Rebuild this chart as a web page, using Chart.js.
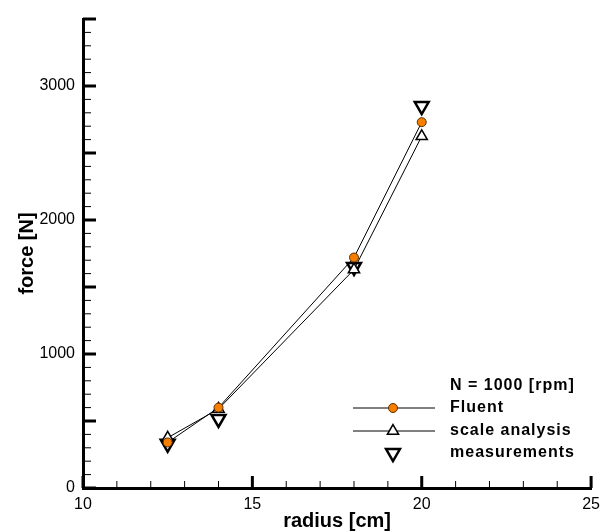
<!DOCTYPE html>
<html>
<head>
<meta charset="utf-8">
<script src="https://cdn.jsdelivr.net/npm/chart.js@4"></script>
<style>
  html, body { margin: 0; padding: 0; background: #fff; }
  canvas { display: block; }
</style>
</head>
<body>
<canvas id="forceChart" width="607" height="532"></canvas>
<script>
// Data
const radius = [12.5, 14, 18, 20];
const fluent = [340, 600, 1720, 2730];
const scaleAnalysis = [375, 590, 1630, 2625];
const measurements = [330, 515, 1650, 2850];

const seriesNames = ['Fluent', 'scale analysis', 'measurements'];
const legendTitle = 'N = 1000 [rpm]';

const xTickLabels = [10, 15, 20, 25];
const yTickLabels = [0, 1000, 2000, 3000];

const toPoints = ys => radius.map((r, i) => ({ x: r, y: ys[i] }));

// Inward tick marks, like the original plotting package
const inwardTicks = {
    id: 'inwardTicks',
    beforeDatasetsDraw(chart) {
        const { ctx, scales: { x, y } } = chart;
        const x0 = x.getPixelForValue(x.min);
        const y0 = y.getPixelForValue(y.min);
        ctx.save();
        ctx.strokeStyle = '#000';
        for (let v = x.min; v <= x.max; v += 1) {
            const major = v % 5 === 0;
            const px = x.getPixelForValue(v);
            ctx.lineWidth = major ? 3 : 1;
            ctx.beginPath();
            ctx.moveTo(px, y0);
            ctx.lineTo(px, y0 - (major ? 12 : 7));
            ctx.stroke();
        }
        for (let v = y.min; v <= y.max; v += 100) {
            const major = v % 500 === 0;
            const py = y.getPixelForValue(v);
            ctx.lineWidth = major ? 3 : 1;
            ctx.beginPath();
            ctx.moveTo(x0, py);
            ctx.lineTo(x0 + (major ? 13 : 8), py);
            ctx.stroke();
        }
        ctx.restore();
    }
};

// Legend box in the lower right
const plotLegend = {
    id: 'plotLegend',
    afterDraw(chart) {
        const ctx = chart.ctx;
        const lineX1 = 353, lineX2 = 435, markX = 393, textX = 450;
        const rows = [408, 431, 453];
        ctx.save();
        ctx.font = 'bold 16px "Liberation Sans", Arial, sans-serif';
        ctx.letterSpacing = '1px';
        ctx.fillStyle = '#000';
        ctx.textBaseline = 'middle';
        ctx.textAlign = 'left';
        ctx.fillText(legendTitle, textX, 386);
        chart.data.datasets.forEach((ds, i) => {
            const yy = rows[i];
            if (ds.showLine) {
                ctx.strokeStyle = ds.borderColor;
                ctx.lineWidth = ds.borderWidth;
                ctx.beginPath();
                ctx.moveTo(lineX1, yy);
                ctx.lineTo(lineX2, yy);
                ctx.stroke();
            }
            ctx.fillStyle = ds.pointBackgroundColor;
            ctx.strokeStyle = ds.pointBorderColor;
            ctx.lineWidth = ds.pointBorderWidth;
            Chart.helpers.drawPoint(ctx, {
                pointStyle: ds.pointStyle,
                rotation: ds.pointRotation || 0,
                radius: ds.pointRadius,
                borderWidth: ds.pointBorderWidth
            }, markX, yy);
            ctx.fillStyle = '#000';
            ctx.fillText(seriesNames[i], textX, yy);
        });
        ctx.restore();
    }
};

const axisFont = { family: '"Liberation Sans", Arial, sans-serif', size: 16 };
const titleFont = { family: '"Liberation Sans", Arial, sans-serif', size: 20, weight: 'bold', lineHeight: 1 };

new Chart(document.getElementById('forceChart'), {
    type: 'scatter',
    data: {
        datasets: [
            {
                label: seriesNames[0],
                data: toPoints(fluent),
                showLine: true,
                borderColor: '#000',
                borderWidth: 1,
                pointStyle: 'circle',
                pointRadius: 4.5,
                pointBackgroundColor: '#f77f00',
                pointBorderColor: '#5a2e00',
                pointBorderWidth: 1
            },
            {
                label: seriesNames[1],
                data: toPoints(scaleAnalysis),
                showLine: true,
                borderColor: '#000',
                borderWidth: 1,
                pointStyle: 'triangle',
                pointRadius: 6.5,
                pointBackgroundColor: '#fff',
                pointBorderColor: '#000',
                pointBorderWidth: 1.5
            },
            {
                label: seriesNames[2],
                data: toPoints(measurements),
                showLine: false,
                borderColor: '#000',
                borderWidth: 0,
                pointStyle: 'triangle',
                pointRotation: 180,
                pointRadius: 8,
                pointBackgroundColor: '#fff',
                pointBorderColor: '#000',
                pointBorderWidth: 2.5
            }
        ]
    },
    options: {
        responsive: false,
        animation: false,
        devicePixelRatio: 1,
        layout: { padding: { left: 0, top: 19, right: 9, bottom: 0 } },
        plugins: {
            legend: { display: false },
            tooltip: { enabled: false }
        },
        scales: {
            x: {
                type: 'linear',
                min: 10,
                max: 25,
                afterFit: s => { s.height = 44; },
                afterBuildTicks: s => { s.ticks = xTickLabels.map(v => ({ value: v })); },
                grid: { display: true, drawOnChartArea: false, drawTicks: false },
                border: { display: true, color: '#000', width: 3 },
                ticks: {
                    padding: 7,
                    color: '#000',
                    font: axisFont,
                    maxRotation: 0,
                    autoSkip: false,
                    callback: v => String(v)
                },
                title: {
                    display: true,
                    text: 'radius [cm]',
                    color: '#000',
                    font: titleFont,
                    padding: { top: 0, bottom: 1 }
                }
            },
            y: {
                type: 'linear',
                min: 0,
                max: 3500,
                afterFit: s => { s.width = 83; },
                afterBuildTicks: s => { s.ticks = yTickLabels.map(v => ({ value: v })); },
                grid: { display: true, drawOnChartArea: false, drawTicks: false },
                border: { display: true, color: '#000', width: 3 },
                ticks: {
                    padding: 8,
                    color: '#000',
                    font: axisFont,
                    autoSkip: false,
                    callback: v => String(v)
                },
                title: {
                    display: true,
                    text: 'force [N]',
                    color: '#000',
                    font: titleFont,
                    padding: { top: 17, bottom: 0 }
                }
            }
        }
    },
    plugins: [inwardTicks, plotLegend]
});
</script>
</body>
</html>
